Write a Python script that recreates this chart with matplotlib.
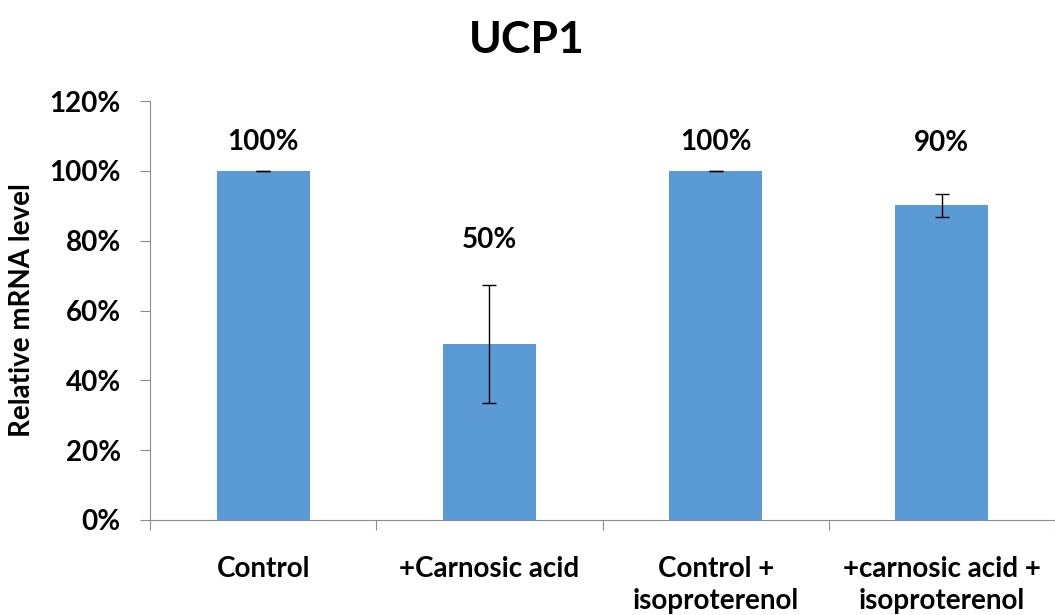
import matplotlib
matplotlib.use("Agg")
import matplotlib.pyplot as plt
from matplotlib.ticker import PercentFormatter

categories = ["Control", "+Carnosic acid", "Control +\nisoproterenol", "+carnosic acid +\nisoproterenol"]
values = [100, 50.4, 100, 90.2]
errors = [0, 16.9, 0, 3.3]
labels = ["100%", "50%", "100%", "90%"]
# heights where the value labels sit (percent units)
label_y = [108.3, 80.2, 108.3, 108.0]

plt.rcParams['font.family'] = ['Lato', 'DejaVu Sans']
plt.rcParams['font.weight'] = 'bold'

fig = plt.figure(figsize=(10.55, 6.15), dpi=100)
ax = fig.add_axes([150 / 1055, 95 / 615, 905 / 1055, 419 / 615])

x = range(len(categories))
ax.bar(x, values, width=0.41, color='#5b9bd5', zorder=2)
ax.errorbar(x, values, yerr=errors, fmt='none', ecolor='black',
            elinewidth=1, capsize=5, capthick=1, zorder=3)

for xi, lab, ly in zip(x, labels, label_y):
    ax.text(xi, ly, lab, ha='center', va='center', fontsize=20, fontweight='bold')

ax.set_xlim(-0.5, 3.5)
ax.set_ylim(0, 120)
ax.set_yticks(range(0, 121, 20))
ax.yaxis.set_major_formatter(PercentFormatter(decimals=0))

# category labels between boundary ticks
ax.set_xticks([-0.5, 0.5, 1.5, 2.5, 3.5])
ax.set_xticklabels([])
ax.set_xticks(list(x), minor=True)
ax.set_xticklabels(categories, minor=True, fontsize=20, fontweight='bold',
                   linespacing=1.3)
ax.tick_params(axis='x', which='minor', length=0, pad=26)
ax.tick_params(axis='x', which='major', length=7, color='#8c8c8c', direction='out')
ax.tick_params(axis='y', length=7, color='#8c8c8c', labelsize=20, pad=14)

for side in ['top', 'right']:
    ax.spines[side].set_visible(False)
for side in ['left', 'bottom']:
    ax.spines[side].set_color('#8c8c8c')

ax.set_ylabel('Relative mRNA level', fontsize=20, fontweight='bold', labelpad=10)
fig.text(527 / 1055, 1 - 40 / 615, 'UCP1', ha='center', va='center',
         fontsize=32, fontweight='bold')

fig.savefig('out.png', dpi=100)
